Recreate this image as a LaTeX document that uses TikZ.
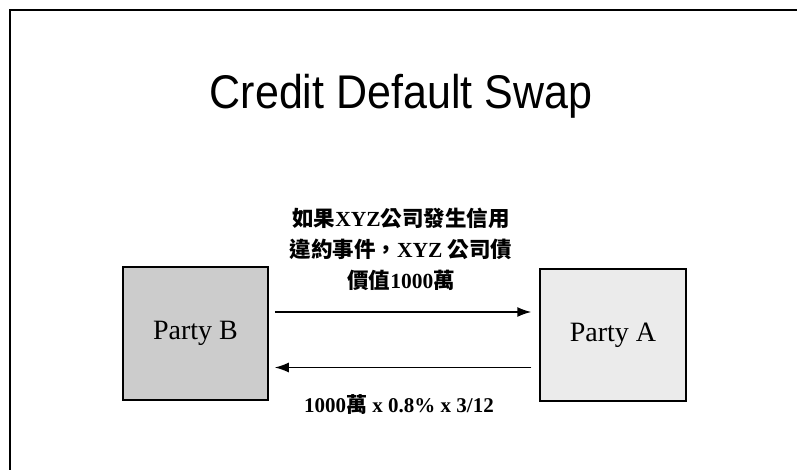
\documentclass[tikz,border=0pt]{standalone}
\usepackage{fontspec}
\setmainfont{Liberation Serif}
\newfontfamily\titlefont{Liberation Sans}
\newfontfamily\cjk{Noto Sans CJK TC}
\usetikzlibrary{arrows.meta}
\newcommand{\zh}[1]{{\cjk #1}}
\begin{document}
\begin{tikzpicture}[x=1pt,y=-1pt,
  party/.style={draw=black,line width=1.5pt,inner sep=0pt,font=\fontsize{28}{30}\selectfont},
  flow/.style={line width=1.5pt,-{Latex[length=14pt,width=10pt]}},
  lbl/.style={font=\fontsize{21.5}{31}\selectfont\bfseries,align=center}]
\useasboundingbox (0,0) rectangle (797,470);
\fill[white] (0,0) rectangle (797,470);
\draw[line width=1.5pt] (10,470) -- (10,10) -- (800,10);
\node[font=\titlefont\fontsize{43}{48}\selectfont,yscale=1.1] (title) at (401,96) {Credit Default Swap};
\node[party,fill=black!20,minimum width=145pt,minimum height=133pt] (B) at (195.5,333.5) {Party B};
\node[party,fill=black!8,minimum width=146pt,minimum height=132pt] (A) at (613,335) {Party A};
\draw[flow] ([xshift=6pt,yshift=21.5pt]B.east) -- ([xshift=-8pt,yshift=21.5pt]B.east -| A.west);
\draw[flow] ([xshift=-8pt,yshift=-32.5pt]A.west -| A.west) -- ([xshift=6pt,yshift=-32.5pt]A.west -| B.east);
\node[lbl] (top) at (401,249) {\zh{如果}XYZ\zh{公司發生信用}\\\zh{違約事件，}XYZ \zh{公司債}\\\zh{價值}1000\zh{萬}};
\node[lbl,font=\fontsize{21}{25}\selectfont\bfseries] (bot) at (399,405) {1000\zh{萬} x 0.8\% x 3/12};
\end{tikzpicture}
\end{document}
